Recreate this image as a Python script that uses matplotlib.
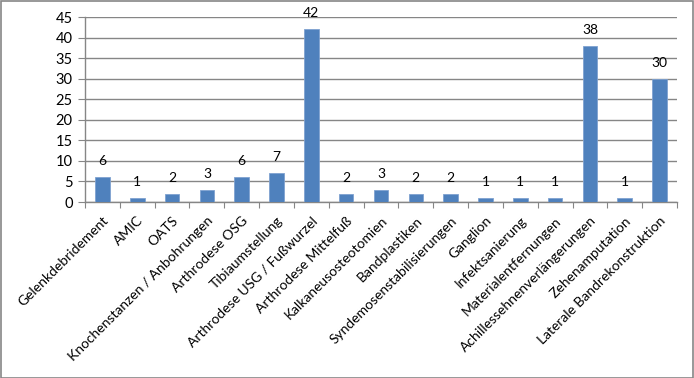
import matplotlib.pyplot as plt
from matplotlib.patches import Rectangle

categories = ["Gelenkdebridement", "AMIC", "OATS", "Knochenstanzen / Anbohrungen",
              "Arthrodese OSG", "Tibiaumstellung", "Arthrodese USG / Fußwurzel",
              "Arthrodese Mittelfuß", "Kalkaneusosteotomien", "Bandplastiken",
              "Syndemosenstabilisierungen", "Ganglion", "Infektsanierung",
              "Materialentfernungen", "Achillessehnenverlängerungen",
              "Zehenamputation", "Laterale Bandrekonstruktion"]
values = [6, 1, 2, 3, 6, 7, 42, 2, 3, 2, 2, 1, 1, 1, 38, 1, 30]

plt.rcParams['font.family'] = ['Lato', 'DejaVu Sans']

fig = plt.figure(figsize=(6.94, 3.78), dpi=100)
ax = fig.add_axes([0.1225, 0.4656, 0.853, 0.4894])

x = list(range(len(categories)))
ax.bar(x, values, width=0.42, color='#4F81BD', edgecolor='#7FA2D0', linewidth=0.6, zorder=3)
for xi, v in zip(x, values):
    ax.text(xi, v + 2.4, str(v), ha='center', va='bottom', fontsize=10, color='black')

ax.set_xlim(-0.5, len(categories) - 0.5)
ax.set_ylim(0, 45)
ax.set_yticks(range(0, 46, 5))
ax.yaxis.grid(True, color='#868686', linewidth=1.0, zorder=0)
ax.tick_params(axis='y', length=5, color='#868686', labelsize=10.5, pad=4)

ax.set_xticks([i - 0.5 for i in range(len(categories) + 1)], minor=False)
ax.set_xticklabels([])
ax.tick_params(axis='x', length=4, color='#868686')
ax.set_xticks(x, minor=True)
ax.set_xticklabels(categories, minor=True, rotation=45, ha='right', rotation_mode='anchor', fontsize=10)
ax.tick_params(axis='x', which='minor', length=0, pad=9)

for s in ['top', 'right']:
    ax.spines[s].set_visible(False)
for s in ['left', 'bottom']:
    ax.spines[s].set_color('#868686')
    ax.spines[s].set_linewidth(1.0)

fig.patches.append(Rectangle((0.001, 0.001), 0.997, 0.996, transform=fig.transFigure,
                             fill=False, edgecolor='#868686', linewidth=1.2))

fig.savefig('out.png', dpi=100)
